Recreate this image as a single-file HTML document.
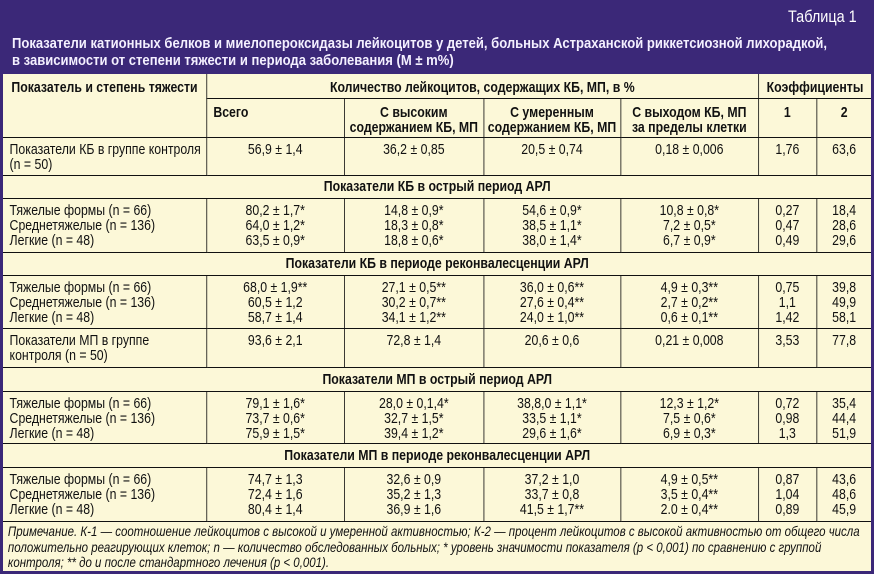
<!DOCTYPE html>
<html><head><meta charset="utf-8"><style>
*{margin:0;padding:0;box-sizing:border-box}
body{width:874px;height:574px;background:#3b2878;font-family:"Liberation Sans",sans-serif;position:relative;overflow:hidden}
.hdr{position:absolute;color:#fff;transform-origin:0 0;white-space:nowrap}
.t1{left:788px;top:7px;font-size:17px;transform:scaleX(0.85)}
.tt{left:12px;top:35px;font-size:15px;font-weight:bold;line-height:17px;color:#f4f0ff;transform:scaleX(0.87)}
.box{position:absolute;left:3px;top:74px;width:868px;height:497px;background:#fcf8d8;overflow:hidden}
.inner{position:absolute;left:0;top:0;width:1059px;height:497px;transform:scaleX(0.82);transform-origin:0 0}
table{position:absolute;left:0;top:0;border-collapse:collapse;table-layout:fixed;width:1059px;font-size:15px;color:#111}
td{border:1.5px solid #111;text-align:center;vertical-align:top;padding:4px 4px 0;line-height:15px;white-space:nowrap;overflow:hidden}
tr:first-child td{border-top:none}
td:first-child{border-left:none;text-align:left;padding-left:8px}
td:last-child{border-right:none}
.b td{font-weight:bold;padding-top:6px}
.g td{text-align:center!important;font-weight:bold;vertical-align:middle;padding:0}
.note{position:absolute;left:6px;top:450px;font-size:14px;font-style:italic;line-height:15.5px;color:#111;white-space:nowrap}
</style></head><body>
<div class="hdr t1">Таблица 1</div>
<div class="hdr tt">Показатели катионных белков и миелопероксидазы лейкоцитов у детей, больных Астраханской риккетсиозной лихорадкой,<br>в зависимости от степени тяжести и периода заболевания (M ± m%)</div>
<div class="box"><div class="inner">
<table>
<colgroup><col style="width:248px"><col style="width:168px"><col style="width:170px"><col style="width:167px"><col style="width:168px"><col style="width:71px"><col style="width:67px"></colgroup>
<tr style="height:24px" class="b"><td rowspan="2" style="text-align:center;padding-left:4px">Показатель и степень тяжести</td><td colspan="4">Количество лейкоцитов, содержащих КБ, МП, в %</td><td colspan="2">Коэффициенты</td></tr>
<tr style="height:39px" class="b"><td>Всего</td><td>С высоким<br>содержанием КБ, МП</td><td>С умеренным<br>содержанием КБ, МП</td><td>С выходом КБ, МП<br>за пределы клетки</td><td>1</td><td>2</td></tr>
<tr style="height:38px"><td>Показатели КБ в группе контроля<br>(n = 50)</td><td>56,9 ± 1,4</td><td>36,2 ± 0,85</td><td>20,5 ± 0,74</td><td>0,18 ± 0,006</td><td>1,76</td><td>63,6</td></tr>
<tr style="height:23px" class="g"><td colspan="7">Показатели КБ в острый период АРЛ</td></tr>
<tr style="height:54px"><td>Тяжелые формы (n = 66)<br>Среднетяжелые (n = 136)<br>Легкие (n = 48)</td><td>80,2 ± 1,7*<br>64,0 ± 1,2*<br>63,5 ± 0,9*</td><td>14,8 ± 0,9*<br>18,3 ± 0,8*<br>18,8 ± 0,6*</td><td>54,6 ± 0,9*<br>38,5 ± 1,1*<br>38,0 ± 1,4*</td><td>10,8 ± 0,8*<br>7,2 ± 0,5*<br>6,7 ± 0,9*</td><td>0,27<br>0,47<br>0,49</td><td>18,4<br>28,6<br>29,6</td></tr>
<tr style="height:23px" class="g"><td colspan="7">Показатели КБ в периоде реконвалесценции АРЛ</td></tr>
<tr style="height:53px"><td>Тяжелые формы (n = 66)<br>Среднетяжелые (n = 136)<br>Легкие (n = 48)</td><td>68,0 ± 1,9**<br>60,5 ± 1,2<br>58,7 ± 1,4</td><td>27,1 ± 0,5**<br>30,2 ± 0,7**<br>34,1 ± 1,2**</td><td>36,0 ± 0,6**<br>27,6 ± 0,4**<br>24,0 ± 1,0**</td><td>4,9 ± 0,3**<br>2,7 ± 0,2**<br>0,6 ± 0,1**</td><td>0,75<br>1,1<br>1,42</td><td>39,8<br>49,9<br>58,1</td></tr>
<tr style="height:39px"><td>Показатели МП в группе<br>контроля (n = 50)</td><td>93,6 ± 2,1</td><td>72,8 ± 1,4</td><td>20,6 ± 0,6</td><td>0,21 ± 0,008</td><td>3,53</td><td>77,8</td></tr>
<tr style="height:24px" class="g"><td colspan="7">Показатели МП в острый период АРЛ</td></tr>
<tr style="height:52px"><td>Тяжелые формы (n = 66)<br>Среднетяжелые (n = 136)<br>Легкие (n = 48)</td><td>79,1 ± 1,6*<br>73,7 ± 0,6*<br>75,9 ± 1,5*</td><td>28,0 ± 0,1,4*<br>32,7 ± 1,5*<br>39,4 ± 1,2*</td><td>38,8,0 ± 1,1*<br>33,5 ± 1,1*<br>29,6 ± 1,6*</td><td>12,3 ± 1,2*<br>7,5 ± 0,6*<br>6,9 ± 0,3*</td><td>0,72<br>0,98<br>1,3</td><td>35,4<br>44,4<br>51,9</td></tr>
<tr style="height:24px" class="g"><td colspan="7">Показатели МП в периоде реконвалесценции АРЛ</td></tr>
<tr style="height:54px"><td>Тяжелые формы (n = 66)<br>Среднетяжелые (n = 136)<br>Легкие (n = 48)</td><td>74,7 ± 1,3<br>72,4 ± 1,6<br>80,4 ± 1,4</td><td>32,6 ± 0,9<br>35,2 ± 1,3<br>36,9 ± 1,6</td><td>37,2 ± 1,0<br>33,7 ± 0,8<br>41,5 ± 1,7**</td><td>4,9 ± 0,5**<br>3,5 ± 0,4**<br>2.0 ± 0,4**</td><td>0,87<br>1,04<br>0,89</td><td>43,6<br>48,6<br>45,9</td></tr>
</table>
<div class="note">Примечание. К-1 — соотношение лейкоцитов с высокой и умеренной активностью; К-2 — процент лейкоцитов с высокой активностью от общего числа<br>положительно реагирующих клеток; n — количество обследованных больных; * уровень значимости показателя (p &lt; 0,001) по сравнению с группой<br>контроля; ** до и после стандартного лечения (p &lt; 0,001).</div>
</div></div>
</body></html>
